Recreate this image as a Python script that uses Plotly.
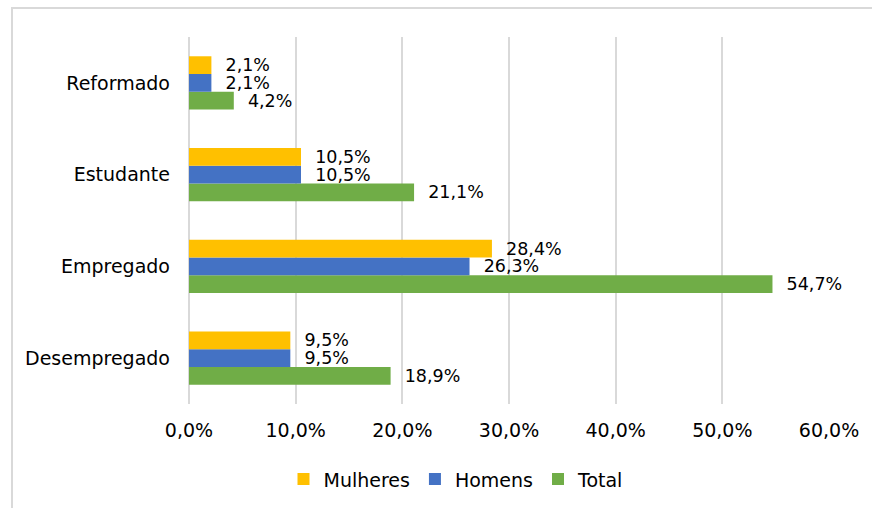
import plotly.graph_objects as go

categories = ["Desempregado", "Empregado", "Estudante", "Reformado"]
mulheres = [9.5, 28.4, 10.5, 2.1]
homens = [9.5, 26.3, 10.5, 2.1]
total = [18.9, 54.7, 21.1, 4.2]
x_ticks = [0, 10, 20, 30, 40, 50, 60]
x_tick_text = [f"{v:.1f}%".replace(".", ",") for v in x_ticks]

FONT = "DejaVu Sans"
SIZE = 19
LABEL_SIZE = 17.5
fig = go.Figure()
for name, vals, color in [("Total", total, "#70AD47"),
                          ("Homens", homens, "#4472C4"),
                          ("Mulheres", mulheres, "#FFC000")]:
    fig.add_trace(go.Bar(
        y=categories, x=vals, name=name, orientation="h",
        marker=dict(color=color, line=dict(width=0)),
        texttemplate="\u00a0\u00a0%{x:.1f}%", textposition="outside",
        constraintext="none",
        textfont=dict(family=FONT, size=LABEL_SIZE, color="#000000"),
        cliponaxis=False,
    ))

fig.update_layout(
    width=872, height=508,
    barmode="group", bargap=0.42, bargroupgap=0,
    separators=", ",
    paper_bgcolor="white", plot_bgcolor="white",
    margin=dict(l=189, r=43, t=37, b=104, autoexpand=False),
    font=dict(family=FONT, size=SIZE, color="#000000"),
    xaxis=dict(range=[0, 60], tickvals=x_ticks, ticktext=x_tick_text,
               showgrid=True, gridcolor="#D9D9D9", gridwidth=2, automargin=False,
               zeroline=False, showline=False, ticks="", ticklabelstandoff=13),
    yaxis=dict(showgrid=False, zeroline=False, showline=False, ticks="",
               automargin=False, ticklabelstandoff=18),
    legend=dict(orientation="h", x=(456 - 189) / 640, xanchor="center",
                y=-0.205, yanchor="middle",
                traceorder="reversed", font=dict(family=FONT, size=SIZE),
                itemwidth=30, tracegroupgap=0),
)
fig.add_shape(type="line", xref="paper", yref="paper",
              x0=0, x1=0, y0=0, y1=1, line=dict(color="#D9D9D9", width=2), layer="below")
# outer frame
fig.add_shape(type="rect", xref="paper", yref="paper",
              x0=(12 - 189) / 640, x1=(880 - 189) / 640,
              y0=(404 - 520) / 367, y1=(404 - 8) / 367,
              line=dict(color="#D9D9D9", width=2))

fig.write_html("out.html", config={"displayModeBar": False},
               post_script="document.body.style.margin='0';document.body.style.overflow='hidden';")
